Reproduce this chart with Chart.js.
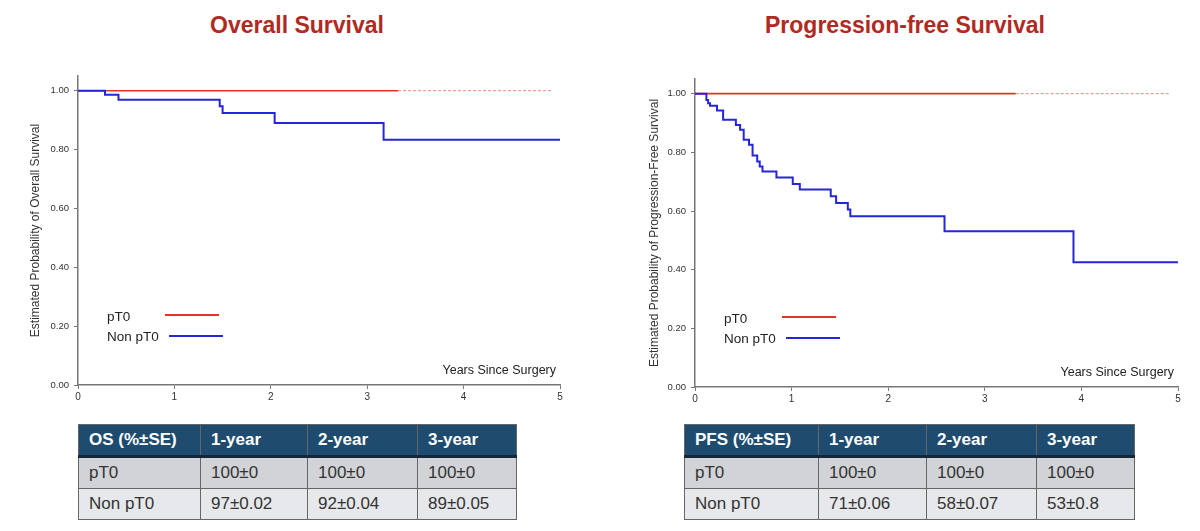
<!DOCTYPE html>
<html>
<head>
<meta charset="utf-8">
<script src="https://cdn.jsdelivr.net/npm/chart.js@4.4.1/dist/chart.umd.min.js"></script>
<style>
  body { margin: 0; background: #fff; width: 1200px; height: 531px; position: relative; overflow: hidden;
         font-family: "Liberation Sans", Arial, sans-serif; }
  .title { position: absolute; top: 12px; width: 400px; text-align: center; font-size: 23px;
           font-weight: bold; color: #b02a22; }
  canvas { position: absolute; top: 60px; }
  table { position: absolute; top: 424px; border-collapse: collapse; table-layout: fixed;
          font-size: 17px; color: #333; }
  th, td { border: 1px solid #666; height: 30px; padding: 0 0 0 10px; text-align: left; white-space: nowrap; }
  th { background: #1e4b6e; color: #fff; font-weight: bold; border-bottom: 3px solid #12283a; }
  tr.r1 td { background: #d1d3d7; }
  tr.r2 td { background: #e7e8eb; }
</style>
</head>
<body>
<div class="title" style="left:97px">Overall Survival</div>
<div class="title" style="left:705px">Progression-free Survival</div>

<canvas id="os" width="600" height="360" style="left:0"></canvas>
<canvas id="pfs" width="580" height="360" style="left:620px"></canvas>

<table id="osTable" style="left:78px"></table>
<table id="pfsTable" style="left:684px"></table>

<script>
// ---- data ----
const yearTicks = [0, 1, 2, 3, 4, 5];
const probTicks = [0, 0.2, 0.4, 0.6, 0.8, 1.0];

// Overall survival
const osPT0Years = [0, 3.32];
const osPT0Surv = [1, 1];
const osPT0TailYears = [3.32, 4.91];
const osPT0TailSurv = [1, 1];
const osNonYears = [0, 0.28, 0.42, 1.47, 1.50, 2.04, 3.17, 5.0];
const osNonSurv = [1, 0.986, 0.969, 0.947, 0.924, 0.890, 0.833, 0.833];

// Progression-free survival
const pfsPT0Years = [0, 3.32];
const pfsPT0Surv = [1, 1];
const pfsPT0TailYears = [3.32, 4.91];
const pfsPT0TailSurv = [1, 1];
const pfsNonYears = [0, 0.118, 0.136, 0.155, 0.228, 0.291, 0.423, 0.467, 0.504, 0.559, 0.596,
                     0.644, 0.670, 0.699, 0.843, 1.012, 1.085, 1.405, 1.461, 1.582, 1.608, 2.583, 3.918, 5.0];
const pfsNonSurv = [1, 0.978, 0.967, 0.959, 0.943, 0.911, 0.893, 0.877, 0.843, 0.826, 0.789,
                    0.769, 0.752, 0.735, 0.714, 0.692, 0.673, 0.650, 0.627, 0.605, 0.582, 0.531, 0.425, 0.425];

// tables
const tableCols = ['1-year', '2-year', '3-year'];
const groups = ['pT0', 'Non pT0'];
const osRows = [['100±0', '100±0', '100±0'], ['97±0.02', '92±0.04', '89±0.05']];
const pfsRows = [['100±0', '100±0', '100±0'], ['71±0.06', '58±0.07', '53±0.8']];

const FONT = '"Liberation Sans", Arial, sans-serif';
const RED = '#e5332b';
const BLUE = '#2626d9';

const pts = (xs, ys) => xs.map((x, i) => ({ x, y: ys[i] }));

// legend + axis note drawn inside the plot
const innerText = {
    id: 'innerText',
    afterDatasetsDraw(chart) {
        const { ctx, chartArea: a } = chart;
        ctx.save();
        ctx.fillStyle = '#222';
        ctx.textBaseline = 'middle';
        ctx.font = '13.5px ' + FONT;
        ctx.textAlign = 'left';
        ctx.fillText('pT0', a.left + 29, a.bottom - 68);
        ctx.fillText('Non pT0', a.left + 29, a.bottom - 48);
        ctx.lineWidth = 1.8;
        ctx.strokeStyle = RED;
        ctx.beginPath(); ctx.moveTo(a.left + 87, a.bottom - 70); ctx.lineTo(a.left + 141, a.bottom - 70); ctx.stroke();
        ctx.lineWidth = 2.2;
        ctx.strokeStyle = BLUE;
        ctx.beginPath(); ctx.moveTo(a.left + 91, a.bottom - 49); ctx.lineTo(a.left + 145, a.bottom - 49); ctx.stroke();
        ctx.font = '12.5px ' + FONT;
        ctx.textAlign = 'right';
        ctx.fillText('Years Since Surgery', a.right - 4, a.bottom - 14);
        ctx.restore();
    }
};

const kmChart = (id, cfg) => {
    new Chart(document.getElementById(id), {
        type: 'line',
        data: {
            datasets: [
                { data: pts(cfg.tailX, cfg.tailY), borderColor: 'rgba(229,51,43,0.75)', borderWidth: 0.8, borderDash: [3, 2] },
                { data: pts(cfg.nonX, cfg.nonY), borderColor: BLUE, borderWidth: 2, stepped: 'before' },
                { data: pts(cfg.pt0X, cfg.pt0Y), borderColor: RED, borderWidth: 1.6 },
            ],
        },
        options: {
            responsive: false,
            animation: false,
            layout: { padding: cfg.pad },
            elements: { point: { radius: 0 }, line: { tension: 0 } },
            plugins: { legend: { display: false }, tooltip: { enabled: false } },
            scales: {
                x: {
                    type: 'linear', min: 0, max: 5,
                    afterBuildTicks: (s) => { s.ticks = yearTicks.map((v) => ({ value: v })); },
                    afterFit: (s) => { s.height = cfg.xH; },
                    grid: { drawOnChartArea: false, tickLength: 4, color: '#777', lineWidth: 1 },
                    border: { color: '#777', width: 1.5 },
                    ticks: { color: '#333', font: { size: 10, family: FONT }, padding: 2, maxRotation: 0 },
                },
                y: {
                    min: 0, max: 1.05,
                    afterBuildTicks: (s) => { s.ticks = probTicks.map((v) => ({ value: v })); },
                    afterFit: (s) => { s.width = cfg.yW; },
                    grid: { drawOnChartArea: false, tickLength: 4, color: '#777', lineWidth: 1 },
                    border: { color: '#777', width: 1.5 },
                    ticks: { color: '#333', font: { size: 9.5, family: FONT }, padding: 5, callback: (v) => v.toFixed(2) },
                    title: { display: true, text: cfg.yTitle, color: '#333', font: { size: 12, family: FONT }, padding: 0 },
                },
            },
        },
        plugins: [innerText],
    });
};

kmChart('os', {
    pt0X: osPT0Years, pt0Y: osPT0Surv, tailX: osPT0TailYears, tailY: osPT0TailSurv,
    nonX: osNonYears, nonY: osNonSurv,
    pad: { left: 28, right: 40, top: 16, bottom: 0 }, yW: 50, xH: 35,
    yTitle: 'Estimated Probability of Overall Survival',
});

kmChart('pfs', {
    pt0X: pfsPT0Years, pt0Y: pfsPT0Surv, tailX: pfsPT0TailYears, tailY: pfsPT0TailSurv,
    nonX: pfsNonYears, nonY: pfsNonSurv,
    pad: { left: 27, right: 22, top: 19, bottom: 0 }, yW: 48, xH: 33,
    yTitle: 'Estimated Probability of Progression-Free Survival',
});

// tables
const buildTable = (id, head, rows, widths) => {
    const t = document.getElementById(id);
    let html = '<colgroup>' + widths.map((w) => `<col style="width:${w}px">`).join('') + '</colgroup>';
    html += '<tr>' + [head, ...tableCols].map((c) => `<th>${c}</th>`).join('') + '</tr>';
    rows.forEach((r, i) => {
        html += `<tr class="r${i + 1}"><td>${groups[i]}</td>` + r.map((c) => `<td>${c}</td>`).join('') + '</tr>';
    });
    t.innerHTML = html;
};
buildTable('osTable', 'OS (%±SE)', osRows, [122, 107, 110, 99]);
buildTable('pfsTable', 'PFS (%±SE)', pfsRows, [134, 108, 110, 98]);
</script>
</body>
</html>
